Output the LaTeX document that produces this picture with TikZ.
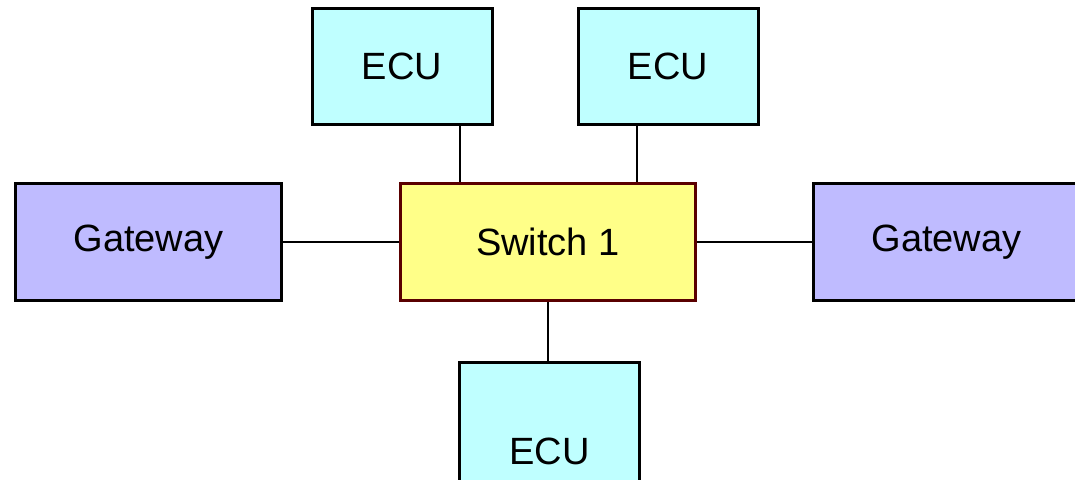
\documentclass[tikz,border=0pt]{standalone}
\usepackage{fontspec}
\setmainfont{Liberation Sans}
\definecolor{ecufill}{HTML}{BFFFFF}
\definecolor{gwfill}{HTML}{BFBBFF}
\definecolor{swfill}{HTML}{FFFF88}
\definecolor{swdraw}{HTML}{5A0000}
\begin{document}
\begin{tikzpicture}[x=1pt,y=-1pt,
  box/.style={draw=black, line width=3pt, inner sep=0pt, font=\fontsize{38}{42}\selectfont},
  ecubox/.style={box, fill=ecufill, minimum width=180pt, minimum height=116pt},
  gwbox/.style={box, fill=gwfill, minimum width=266pt, minimum height=117pt},
  swbox/.style={box, draw=swdraw, fill=swfill, minimum width=295pt, minimum height=117pt},
  link/.style={draw=black, line width=2pt}]
\useasboundingbox (0,0) rectangle (1075,479);
\clip (0,0) rectangle (1075,479);
\node[swbox] (sw) at (548,242) {Switch 1};
\node[ecubox] (ecu1) at (402,66) {ECU};
\node[ecubox] (ecu2) at (668,66) {ECU};
\node[gwbox] (gw1) at (148.5,242) {Gateway};
\node[gwbox] (gw2) at (946.5,242) {Gateway};
\node[ecubox, minimum height=124pt, label={[font=\fontsize{38}{42}\selectfont, yshift=-27pt]center:ECU}] (ecu3) at (549.5,424) {};
\coordinate (c1) at (460,0);
\coordinate (c2) at (637,0);
\draw[link] (ecu1.south -| c1) -- (sw.north -| c1);
\draw[link] (ecu2.south -| c2) -- (sw.north -| c2);
\draw[link] (gw1.east) -- (sw.west);
\draw[link] (sw.east) -- (gw2.west);
\draw[link] (sw.south) -- (ecu3.north -| sw.south);
\end{tikzpicture}
\end{document}
